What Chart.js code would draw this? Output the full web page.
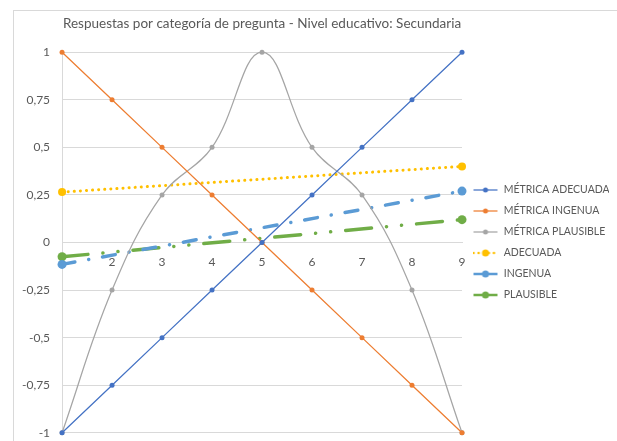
<!DOCTYPE html>
<html>
<head>
<meta charset="utf-8">
<script src="https://cdn.jsdelivr.net/npm/chart.js@4.4.1/dist/chart.umd.min.js"></script>
<style>
  body { margin: 0; background: #fff; }
  #wrap { position: relative; width: 617px; height: 441px; overflow: hidden; }
  #frame { position: absolute; left: 13px; top: 10px; width: 640px; height: 460px; border: 1px solid #d9d9d9; }
  canvas { position: absolute; left: 0; top: 0; }
</style>
</head>
<body>
<div id="wrap"><div id="frame"></div><canvas id="grafico" width="617" height="441"></canvas></div>
<script>
// Datos
const categorias = ["1", "2", "3", "4", "5", "6", "7", "8", "9"];
const metricaAdecuada = [-1, -0.75, -0.5, -0.25, 0, 0.25, 0.5, 0.75, 1];
const metricaIngenua = [1, 0.75, 0.5, 0.25, 0, -0.25, -0.5, -0.75, -1];
const metricaPlausible = [-1, -0.25, 0.25, 0.5, 1, 0.5, 0.25, -0.25, -1];
// Líneas de tendencia (solo extremos)
const adecuada = [0.265, null, null, null, null, null, null, null, 0.4];
const ingenua = [-0.115, null, null, null, null, null, null, null, 0.27];
const plausible = [-0.075, null, null, null, null, null, null, null, 0.12];
const ticksY = [-1, -0.75, -0.5, -0.25, 0, 0.25, 0.5, 0.75, 1];

const gris = "#595959";
const fuente = "Lato, 'Open Sans', sans-serif";

// Símbolo de leyenda: línea con marcador
function simbolo(color, ancho, guiones, radio) {
  const c = document.createElement("canvas");
  c.width = 26;
  c.height = 10;
  const ctx = c.getContext("2d");
  ctx.strokeStyle = color;
  ctx.lineWidth = ancho;
  ctx.lineCap = guiones.length ? "round" : "butt";
  ctx.setLineDash(guiones);
  ctx.beginPath();
  ctx.moveTo(1, 5);
  ctx.lineTo(25, 5);
  ctx.stroke();
  ctx.setLineDash([]);
  ctx.fillStyle = color;
  ctx.beginPath();
  ctx.arc(13, 5, radio, 0, Math.PI * 2);
  ctx.fill();
  return c;
}

const series = [
  { label: "MÉTRICA ADECUADA", data: metricaAdecuada, color: "#4472C4", ancho: 1.25, guiones: [], radio: 2.5 },
  { label: "MÉTRICA INGENUA", data: metricaIngenua, color: "#ED7D31", ancho: 1.25, guiones: [], radio: 2.5 },
  { label: "MÉTRICA PLAUSIBLE", data: metricaPlausible, color: "#A5A5A5", ancho: 1.25, guiones: [], radio: 2.5, curva: true },
  { label: "ADECUADA", data: adecuada, color: "#FFC000", ancho: 3, guiones: [0.1, 6], radio: 4 },
  { label: "INGENUA", data: ingenua, color: "#5B9BD5", ancho: 3.5, guiones: [13, 14, 0.1, 14], radio: 4.5 },
  { label: "PLAUSIBLE", data: plausible, color: "#70AD47", ancho: 3.5, guiones: [26, 15, 0.1, 15, 0.1, 15], radio: 4.5 },
];

const simbolos = series.map((s, i) =>
  simbolo(s.color, Math.min(s.ancho, 2.5), i === 3 ? [0.1, 5] : [], Math.min(s.radio, 3.5))
);

const ctx = document.getElementById("grafico").getContext("2d");

new Chart(ctx, {
  type: "line",
  data: {
    labels: categorias,
    datasets: series.map((s) => ({
      label: s.label,
      data: s.data,
      borderColor: s.color,
      backgroundColor: s.color,
      borderWidth: s.ancho,
      borderDash: s.guiones,
      borderCapStyle: s.guiones.length ? "round" : "butt",
      pointRadius: s.radio,
      pointBorderWidth: 0,
      pointHoverRadius: s.radio,
      tension: s.curva ? 0.4 : 0,
      spanGaps: true,
      clip: false,
      fill: false,
    })),
  },
  options: {
    responsive: false,
    animation: false,
    layout: { padding: { left: 21, right: 8, top: 0, bottom: 0 } },
    plugins: {
      title: {
        display: true,
        fullSize: false,
        text: "Respuestas por categoría de pregunta - Nivel educativo: Secundaria",
        color: gris,
        font: { family: fuente, size: 13.5, weight: "normal" },
        padding: { top: 16, bottom: 20 },
      },
      legend: {
        position: "right",
        align: "center",
        fullSize: false,
        labels: {
          usePointStyle: true,
          pointStyleWidth: 26,
          color: gris,
          padding: 10.5,
          font: { family: fuente, size: 10.5 },
          generateLabels: (chart) =>
            chart.data.datasets.map((ds, i) => ({
              text: ds.label,
              pointStyle: simbolos[i],
              fontColor: gris,
              datasetIndex: i,
              hidden: false,
              lineWidth: 0,
              strokeStyle: "transparent",
              fillStyle: "transparent",
            })),
        },
      },
      tooltip: { enabled: false },
    },
    scales: {
      x: {
        position: { y: 0 },
        offset: false,
        grid: { display: false, drawTicks: false },
        border: { display: true, color: "#d9d9d9" },
        ticks: {
          color: gris,
          padding: 12,
          font: { family: fuente, size: 12 },
          callback: (v, i) => (i === 0 ? "" : categorias[i]),
        },
      },
      y: {
        min: -1,
        max: 1,
        afterBuildTicks: (axis) => {
          axis.ticks = ticksY.map((v) => ({ value: v }));
        },
        grid: { color: "#d9d9d9", drawTicks: true, tickLength: 11, tickColor: "transparent" },
        border: { display: true, color: "#d9d9d9" },
        ticks: {
          color: gris,
          padding: 1,
          font: { family: fuente, size: 12 },
          callback: (v) => String(v).replace(".", ","),
        },
      },
    },
  },
});
</script>
</body>
</html>
